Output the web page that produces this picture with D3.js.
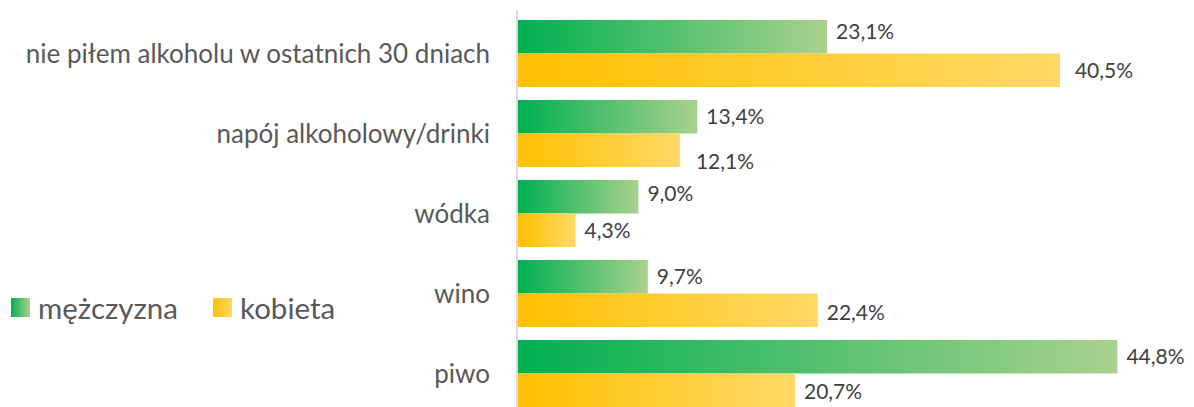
<!DOCTYPE html>
<html>
<head>
<meta charset="utf-8">
<script src="https://cdn.jsdelivr.net/npm/d3@7"></script>
<style>
  body { margin: 0; background: #fff; }
  svg { display: block; }
</style>
</head>
<body>
<svg id="chart" width="1194" height="407"></svg>
<script>
// data
const categories = ["nie piłem alkoholu w ostatnich 30 dniach", "napój alkoholowy/drinki", "wódka", "wino", "piwo"];
const series = ["mężczyzna", "kobieta"];
const men = [23.1, 13.4, 9.0, 9.7, 44.8];
const women = [40.5, 12.1, 4.3, 22.4, 20.7];

const gradColors = {
    "mężczyzna": ["#00b050", "#a9d18e"],
    "kobieta": ["#ffc000", "#ffd966"]
};

// small label nudges (Excel pushed a few labels around), [dx, dy] per series
const labelNudge = {
    "mężczyzna": [[0, -5], [0, 0], [0, -3], [0, 0], [0, 0]],
    "kobieta": [[6, 0], [7, 11], [0, 0], [0, 2], [0, 1]]
};

const svg = d3.select("#chart");
const font = "Lato, 'Open Sans', sans-serif";

// gradients, one per series, stretched across each bar
const defs = svg.append("defs");
series.forEach((s, i) => {
    const g = defs.append("linearGradient")
        .attr("id", "grad" + i)
        .attr("x1", "0%").attr("x2", "100%")
        .attr("y1", "0%").attr("y2", "0%");
    g.append("stop").attr("offset", "0%").attr("stop-color", gradColors[s][0]);
    g.append("stop").attr("offset", "100%").attr("stop-color", gradColors[s][1]);
});

const x = d3.scaleLinear().domain([0, 100]).range([518, 1856]);
const y = d3.scaleBand().domain(categories)
    .range([13.5, 413.5])
    .paddingInner(0.1625)
    .paddingOuter(0.08125);
const ySub = d3.scaleBand().domain(series).range([0, y.bandwidth()]);

const rows = categories.map((c, i) => ({ cat: c, idx: i, values: [men[i], women[i]] }));

const group = svg.append("g")
    .selectAll("g")
    .data(rows)
    .join("g")
    .attr("transform", d => `translate(0,${y(d.cat)})`);

const bars = group.selectAll("g.bar")
    .data(d => d.values.map((v, i) => ({ s: series[i], i: i, v: v, n: labelNudge[series[i]][d.idx] })))
    .join("g")
    .attr("class", "bar");

bars.append("rect")
    .attr("x", x(0))
    .attr("y", d => ySub(d.s))
    .attr("width", d => x(d.v) - x(0))
    .attr("height", ySub.bandwidth())
    .attr("fill", d => `url(#grad${d.i})`);

bars.append("text")
    .attr("x", d => x(d.v) + 9 + d.n[0])
    .attr("y", d => ySub(d.s) + ySub.bandwidth() / 2 + d.n[1])
    .attr("dy", "0.36em")
    .attr("font-family", font)
    .attr("font-size", 21)
    .attr("fill", "#404040")
    .text(d => d.v.toFixed(1).replace(".", ",") + "%");

// vertical axis line
svg.append("line")
    .attr("x1", 517).attr("x2", 517)
    .attr("y1", 10).attr("y2", 407)
    .attr("stroke", "#d9d9d9")
    .attr("stroke-width", 2);

// category labels
svg.append("g")
    .selectAll("text")
    .data(categories)
    .join("text")
    .attr("x", 490)
    .attr("y", d => y(d) + y.bandwidth() / 2)
    .attr("dy", "0.36em")
    .attr("text-anchor", "end")
    .attr("font-family", font)
    .attr("font-size", 26)
    .attr("fill", "#595959")
    .text(d => d);

// legend
const legendX = [11, 213];
const legend = svg.append("g")
    .selectAll("g")
    .data(series)
    .join("g")
    .attr("transform", (d, i) => `translate(${legendX[i]},298)`);

legend.append("rect")
    .attr("width", 19)
    .attr("height", 19)
    .attr("fill", (d, i) => `url(#grad${i})`);

legend.append("text")
    .attr("x", 27)
    .attr("y", 10)
    .attr("dy", "0.36em")
    .attr("font-family", font)
    .attr("font-size", 29.5)
    .attr("fill", "#595959")
    .text(d => d);
</script>
</body>
</html>
